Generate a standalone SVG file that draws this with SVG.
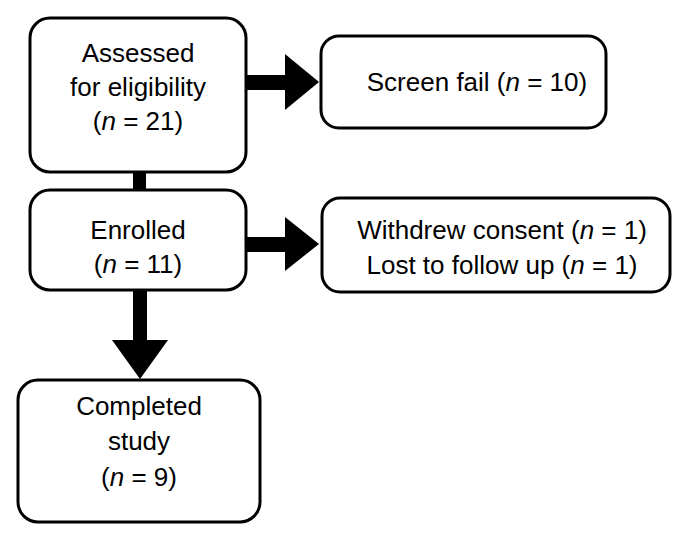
<svg xmlns="http://www.w3.org/2000/svg" width="692" height="539" viewBox="0 0 692 539">
<style>
.b{fill:#fff;stroke:#000;stroke-width:3}
text{font-family:"Liberation Sans",Arial,sans-serif;font-size:26px;text-anchor:middle;fill:#000}
</style>
<rect width="692" height="539" fill="#fff"/>
<g id="connectors" fill="#000">
<rect x="133" y="170" width="13" height="22"/>
<rect x="246" y="75" width="42" height="15"/>
<polygon points="285,54 319,82 285,110"/>
<rect x="246" y="237" width="42" height="15"/>
<polygon points="285,217 319,244 285,271"/>
<rect x="133" y="289" width="14" height="52"/>
<polygon points="112,340 168,340 140,379"/>
</g>
<g id="assessed"><rect class="b" x="30" y="18" width="216" height="154" rx="20"/>
<text x="138" y="62">Assessed</text><text x="138" y="96">for eligibility</text><text x="138" y="130">(<tspan font-style="italic">n</tspan> = 21)</text></g>
<g id="screenfail"><rect class="b" x="321" y="36" width="285" height="92" rx="18"/>
<text x="477" y="91">Screen fail (<tspan font-style="italic">n</tspan> = 10)</text></g>
<g id="enrolled"><rect class="b" x="30" y="190" width="216" height="100" rx="20"/>
<text x="138" y="239">Enrolled</text><text x="138" y="273">(<tspan font-style="italic">n</tspan> = 11)</text></g>
<g id="withdrew"><rect class="b" x="322" y="198" width="348" height="94" rx="18"/>
<text x="502" y="239">Withdrew consent (<tspan font-style="italic">n</tspan> = 1)</text><text x="502" y="274">Lost to follow up (<tspan font-style="italic">n</tspan> = 1)</text></g>
<g id="completed"><rect class="b" x="18" y="380" width="242" height="142" rx="20"/>
<text x="139" y="415">Completed</text><text x="139" y="450">study</text><text x="139" y="486">(<tspan font-style="italic">n</tspan> = 9)</text></g>
</svg>
